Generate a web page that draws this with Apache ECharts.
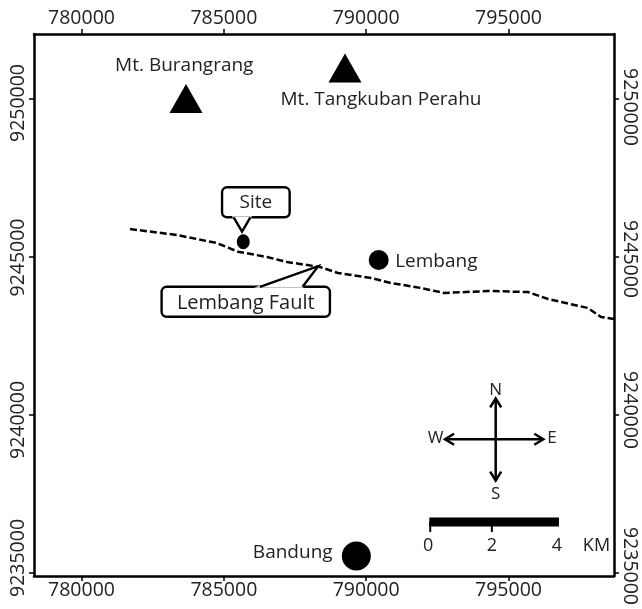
<!DOCTYPE html>
<html><head><meta charset="utf-8">
<style>html,body{margin:0;padding:0;background:#fff}#c{width:642px;height:609px}</style>
<script src="https://cdn.jsdelivr.net/npm/echarts@6/dist/echarts.min.js"></script>
</head><body><div id="c"></div>
<script>
var xTicks = [780000, 785000, 790000, 795000];
var yTicks = [9235000, 9240000, 9245000, 9250000];
var faultLine = [[781704,9245886],[783344,9245696],[784047,9245570],[784749,9245443],[785498,9245168],[786516,9245000],[787219,9244842],[788378,9244684],[789010,9244494],[790170,9244335],[790872,9244177],[791926,9244019],[792734,9243861],[794280,9243924],[795685,9243892],[796388,9243671],[797793,9243386],[798250,9243101],[798706,9243038]];
var mountains = [[783671,9250016],[789256,9250981]];
var siteDot = [[785683,9245484]];
var lembangDot = [[790440,9244905]];
var bandungDot = [[789654,9235538]];
var placeLabels = [["Mt. Burangrang",783610,9251065],["Mt. Tangkuban Perahu",790520,9249990],["Lembang",792465,9244860],["Bandung",787420,9235640]];
var compassArms = [[794550,9239231,794550,9240528],[794550,9239231,794550,9237921],[794550,9239231,792770,9239231],[794550,9239231,796222,9239231]];
var compassLabels = [["N",794550,9240800],["S",794550,9237480],["W",792440,9239270],["E",796530,9239270]];
var scaleBar = [[792217,9236614],[796772,9236614]];
var scaleTicks = [792250,794415];
var scaleLabels = [["0",792180,9235860],["2",794415,9235860],["4",796700,9235860],["KM",798090,9235860]];
var callouts = [
  {name:"Site",tip:[785640,9245800]},
  {name:"Lembang Fault",tip:[788315,9244710]}
];
var FONT = '"Open Sans", sans-serif';
var boxSpec = {
  "Site":{dx:[-20,47.6],dy:[-44.4,-14.4],tail:[-8.4,8.3],fs:19,ty:0},
  "Lembang Fault":{dx:[-156.6,11.7],dy:[20.6,50.6],tail:[-58.3,-15.6],fs:20,ty:2}
};
var axisText = {color:'#222',fontFamily:FONT,fontSize:19.5};
var axisLine = {show:true,onZero:false,lineStyle:{color:'#000',width:2.5}};
var tick = function(v){return {show:true,length:5,customValues:v,lineStyle:{color:'#000',width:1.5}};};
function textItem(list,size){
  return function(p,api){
    var d=list[p.dataIndex],c=api.coord([d[1],d[2]]);
    return {type:'text',style:{x:c[0],y:c[1],text:d[0],fill:'#222',font:size+'px '+FONT,align:'center',verticalAlign:'middle'}};
  };
}
function labelSeries(list,size){
  return {type:'custom',z:7,coordinateSystem:'cartesian2d',data:list.map(function(d){return [d[1],d[2]];}),renderItem:textItem(list,size)};
}
var fmt=function(v){return String(v);};
// per-label nudges along the axis, in px; the source labels were placed by hand
var leftNudge={9250000:4,9245000:0.5,9240000:5,9235000:-15};
var rightNudge={9250000:8,9245000:2,9240000:-5,9235000:-7};
function richFor(nudge,downIsRight){
  var rich={};
  yTicks.forEach(function(v){
    var s=nudge[v],pad=Math.abs(s)*2,toRight=(s>0)===downIsRight;
    rich['v'+v]={fontFamily:FONT,fontSize:19.5,color:'#222',padding:toRight?[0,pad,0,0]:[0,0,0,pad]};
  });
  return rich;
}
var richFmt=function(v){return '{v'+v+'|'+v+'}';};
var xMin=778331,xMax=798706,yMin=9234905,yMax=9252057;
var chart = echarts.init(document.getElementById('c'),null,{renderer:'canvas'});
chart.setOption({
  animation:false,
  backgroundColor:'#fff',
  grid:{left:34,right:28,top:34,bottom:33,show:false,outerBoundsMode:'none'},
  xAxis:[
    {type:'value',position:'bottom',min:xMin,max:xMax,splitLine:{show:false},axisLine:axisLine,axisTick:tick(xTicks),
     axisLabel:Object.assign({customValues:xTicks,margin:4,formatter:fmt},axisText)},
    {type:'value',position:'top',min:xMin,max:xMax,splitLine:{show:false},axisLine:axisLine,axisTick:tick(xTicks),
     axisLabel:Object.assign({customValues:xTicks,margin:6,formatter:fmt},axisText)}
  ],
  yAxis:[
    {type:'value',position:'left',min:yMin,max:yMax,splitLine:{show:false},axisLine:axisLine,axisTick:tick(yTicks),
     axisLabel:Object.assign({customValues:yTicks,margin:6,rotate:90,formatter:richFmt,rich:richFor(leftNudge,true)},axisText)},
    {type:'value',position:'right',min:yMin,max:yMax,splitLine:{show:false},axisLine:axisLine,axisTick:tick(yTicks),
     axisLabel:Object.assign({customValues:yTicks,margin:6,rotate:-90,formatter:richFmt,rich:richFor(rightNudge,false)},axisText)}
  ],
  series:[
    {type:'line',data:faultLine,symbol:'none',smooth:false,z:3,lineStyle:{color:'#000',width:2.5,type:[7,3]}},
    {type:'scatter',data:mountains,symbol:'triangle',symbolSize:[33,29],itemStyle:{color:'#000',opacity:1},z:4},
    {type:'scatter',data:siteDot,symbol:'circle',symbolSize:[13,15],itemStyle:{color:'#000',opacity:1},z:4},
    {type:'scatter',data:lembangDot,symbol:'circle',symbolSize:20,itemStyle:{color:'#000',opacity:1},z:4},
    {type:'scatter',data:bandungDot,symbol:'circle',symbolSize:29,itemStyle:{color:'#000',opacity:1},z:4},
    {type:'line',data:scaleBar,symbol:'none',z:4,lineStyle:{color:'#000',width:9,cap:'butt'}},
    {type:'custom',z:4,data:scaleTicks.map(function(v){return [v,scaleBar[0][1]];}),renderItem:function(p,api){
      var c=api.coord([api.value(0),api.value(1)]);
      return {type:'line',shape:{x1:c[0],y1:c[1],x2:c[0],y2:c[1]+10},style:{stroke:'#000',lineWidth:2}};
    }},
    {type:'custom',z:4,data:compassArms,renderItem:function(p,api){
      var a=api.coord([api.value(0),api.value(1)]),b=api.coord([api.value(2),api.value(3)]);
      var dx=b[0]-a[0],dy=b[1]-a[1],l=Math.sqrt(dx*dx+dy*dy);dx/=l;dy/=l;
      var h=9,w=5.5;
      return {type:'group',children:[
        {type:'line',shape:{x1:a[0],y1:a[1],x2:b[0],y2:b[1]},style:{stroke:'#000',lineWidth:2.5}},
        {type:'polyline',shape:{points:[[b[0]-dx*h-dy*w,b[1]-dy*h+dx*w],[b[0],b[1]],[b[0]-dx*h+dy*w,b[1]-dy*h-dx*w]]},style:{stroke:'#000',fill:null,lineWidth:2.5}}
      ]};
    }},
    {type:'custom',z:6,data:callouts.map(function(d){return d.tip;}),
     renderItem:function(p,api){
      var n=callouts[p.dataIndex].name,s=boxSpec[n],c=api.coord([api.value(0),api.value(1)]);
      var x0=c[0]+s.dx[0],x1=c[0]+s.dx[1],y0=c[1]+s.dy[0],y1=c[1]+s.dy[1];
      var base=s.dy[0]>0?y0:y1;
      return {type:'group',children:[
        {type:'rect',shape:{x:x0,y:y0,width:x1-x0,height:y1-y0,r:5},style:{fill:'#fff',stroke:'#000',lineWidth:2.4}},
        {type:'polygon',shape:{points:[[c[0]+s.tail[0],base],[c[0],c[1]],[c[0]+s.tail[1],base]]},style:{fill:'#fff',stroke:'#fff',lineWidth:2}},
        {type:'polyline',shape:{points:[[c[0]+s.tail[0],base],[c[0],c[1]],[c[0]+s.tail[1],base]]},style:{fill:null,stroke:'#000',lineWidth:2.4}},
        {type:'text',style:{x:(x0+x1)/2,y:(y0+y1)/2+s.ty,text:n,fill:'#222',font:s.fs+'px '+FONT,align:'center',verticalAlign:'middle'}}
      ]};
    }},
    labelSeries(placeLabels,19),
    labelSeries(compassLabels,17),
    labelSeries(scaleLabels,18)
  ]
});
</script></body></html>
